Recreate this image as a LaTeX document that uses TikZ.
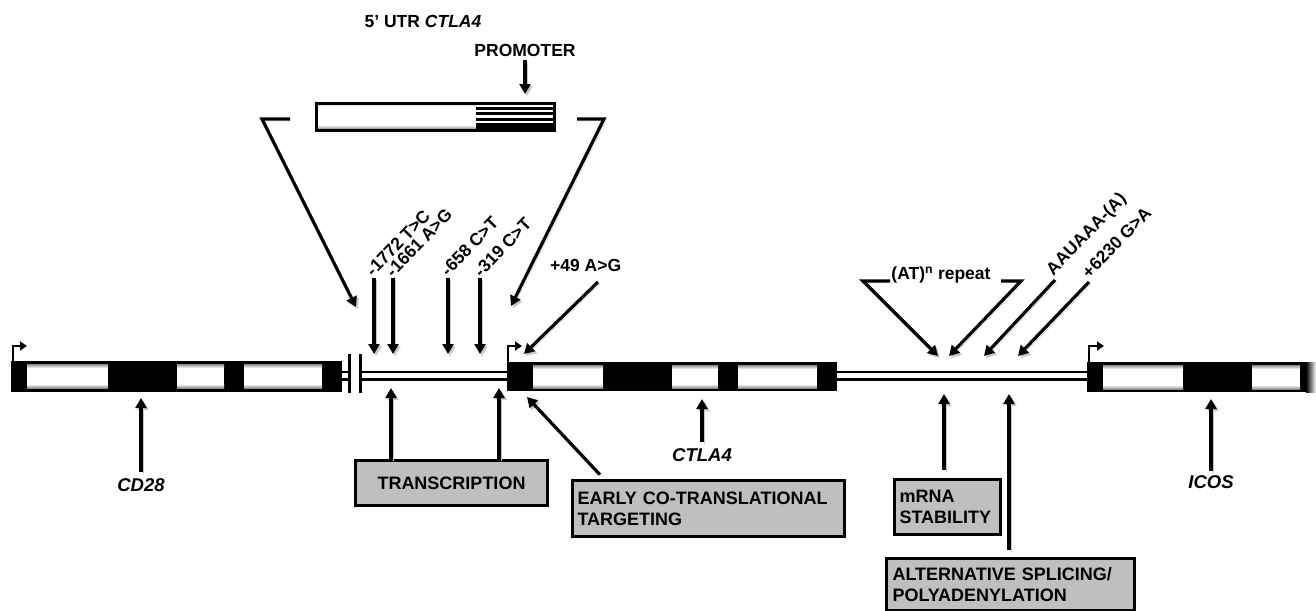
\documentclass[tikz,border=0pt]{standalone}
\usepackage{fontspec}
\setmainfont{Liberation Sans}
\usetikzlibrary{arrows.meta}
\begin{document}
\begin{tikzpicture}[x=1pt,y=-1pt,
  sh/.style={preaction={draw=black!22, transform canvas={shift={(2pt,-2pt)}}}},
  arr/.style={line width=3.2pt, -{Triangle[length=10pt,width=11pt]}, sh},
  lbl/.style={font=\fontsize{17.5}{20}\selectfont\bfseries, inner sep=0pt},
  glbl/.style={font=\fontsize{18.5}{20}\selectfont\bfseries\itshape, inner sep=0pt},
  snp/.style={lbl, rotate=46, anchor=west},
  fbox/.style={draw, line width=3pt, fill=black!25, font=\fontsize{18}{21}\selectfont\bfseries, inner xsep=5pt, inner ysep=0pt, align=left, anchor=north west},
  intron/.style={line width=2.8pt},
  prom/.style={line width=2.8pt, -{Triangle[length=7pt,width=9pt]}},
]
\useasboundingbox (0,0) rectangle (1316,610);

\newcommand{\exonbox}[4]{%
  \fill[white] (#1,#2) rectangle (#3,#4);
  \shade[top color=black!45, bottom color=white] (#1,#2) rectangle (#3,#2+4);
  \shade[top color=white, bottom color=black!45] (#1,#4-4) rectangle (#3,#4);}

% ---------- gene bars ----------
\fill (11,361) rectangle (342,392);
\exonbox{27}{364}{108}{388}
\exonbox{177}{364}{224}{388}
\exonbox{244}{364}{322}{388}

\fill (507,362) rectangle (837,391);
\exonbox{533}{365}{603}{388}
\exonbox{672}{365}{718}{388}
\exonbox{738}{365}{817}{388}

\fill (1087,362) rectangle (1306,392);
\shade[left color=black, right color=white] (1306,362) rectangle (1316,392);
\exonbox{1103}{365}{1183}{389}
\exonbox{1252}{365}{1300}{389}

% introns
\draw[intron] (342,372)--(349,372) (342,379.5)--(349,379.5);
\draw[intron] (360,372)--(507,372) (360,379.5)--(507,379.5);
\draw[intron] (837,372)--(1087,372) (837,379.5)--(1087,379.5);
\draw[line width=3pt] (349,354)--(349,393) (360,354)--(360,393);

% promoter arrows on genes
\draw[prom] (13,361) -- (13,346) -- (27,346);
\draw[prom] (508,362) -- (508,346) -- (522,346);
\draw[prom] (1089,362) -- (1089,346) -- (1104,346);

% ---------- 5' UTR box ----------
\exonbox{315}{102}{476}{129}
\fill (476,102) rectangle (553,129);
\foreach \yy in {105.5,111,116.5,122}
  \draw[white, line width=2.4pt] (476,\yy) -- (553,\yy);
\node[draw, line width=3pt, minimum width=238pt, minimum height=27pt, inner sep=0pt, anchor=north west] (utr) at (315,102) {};

\node[lbl] (utrlbl) at (423,21) {5' UTR \textit{CTLA4}};
\node[lbl] (promlbl) at (525,50) {PROMOTER};
\coordinate (promtip) at (525,94);
\draw[arr, shorten <=4pt] (promlbl.south) -- (promtip);

% brackets
\coordinate (lb1) at (290,119); \coordinate (lb2) at (262,119); \coordinate (lbt) at (356,307);
\draw[arr] (lb1) -- (lb2) -- (lbt);
\coordinate (rb1) at (577,119); \coordinate (rb2) at (604,119); \coordinate (rbt) at (511,306);
\draw[arr] (rb1) -- (rb2) -- (rbt);

% ---------- SNPs ----------
\coordinate (s1t) at (374,278); \coordinate (s1b) at (374,354);
\coordinate (s2t) at (393,278); \coordinate (s2b) at (393,354);
\coordinate (s3t) at (448,278); \coordinate (s3b) at (448,354);
\coordinate (s4t) at (480,278); \coordinate (s4b) at (480,354);
\draw[arr] (s1t) -- (s1b);
\draw[arr] (s2t) -- (s2b);
\draw[arr] (s3t) -- (s3b);
\draw[arr] (s4t) -- (s4b);
\node[snp] (l1) at (369,273) {-1772 T>C};
\node[snp] (l2) at (389,274) {-1661 A>G};
\node[snp] (l3) at (444,273) {-658 C>T};
\node[snp] (l4) at (477,274) {-319 C>T};

\node[lbl, anchor=west] (p49) at (550,265) {+49 A>G};
\coordinate (p49s) at (598,282); \coordinate (p49t) at (524,354);
\draw[arr] (p49s) -- (p49t);

% ---------- 3' region ----------
\node[lbl] (atlbl) at (941,275) {(AT)\textsuperscript{n} repeat};
\coordinate (at1) at (890,281); \coordinate (at2) at (863,281); \coordinate (att1) at (938,356);
\coordinate (at3) at (1001,281); \coordinate (at4) at (1021,281); \coordinate (att2) at (949,356);
\draw[arr] (at1) -- (at2) -- (att1);
\draw[arr] (at3) -- (at4) -- (att2);

\coordinate (aas) at (1055,280); \coordinate (aat) at (984,356);
\draw[arr] (aas) -- (aat);
\node[snp] (aal) at (1050,273) {AAUAAA-(A)};
\coordinate (g6s) at (1089,282); \coordinate (g6t) at (1018,356);
\draw[arr] (g6s) -- (g6t);
\node[snp] (g6l) at (1085,275) {+6230 G>A};

% ---------- gene names ----------
\node[glbl] (cd28) at (141,485) {CD28};
\coordinate (cd28t) at (141,398);
\draw[arr, shorten <=6pt] (cd28.north) -- (cd28t);
\node[glbl] (ctla4) at (702,455) {CTLA4};
\coordinate (ctla4t) at (702,399);
\draw[arr, shorten <=6pt] (ctla4.north) -- (ctla4t);
\node[glbl] (icos) at (1211,482) {ICOS};
\coordinate (icost) at (1211,399);
\draw[arr, shorten <=4pt] (icos.north) -- (icost);

% ---------- function boxes ----------
\node[fbox, minimum width=192pt, minimum height=45pt, align=center, anchor=north west] (tr) at (354,459) {TRANSCRIPTION};
\coordinate (t1) at (391,388); \coordinate (t2) at (499,388);
\draw[arr] (t1 |- tr.north) -- (t1);
\draw[arr] (t2 |- tr.north) -- (t2);

\node[fbox, text width=262pt, minimum height=56pt] (early) at (571,479) {EARLY CO-TRANSLATIONAL\\TARGETING};
\coordinate (e1) at (527,397);
\draw[arr, shorten <=6pt] ([xshift=33pt]early.north west) -- (e1);

\node[fbox, text width=96pt, minimum height=55pt] (mrna) at (893,478) {mRNA\\STABILITY};
\coordinate (m1) at (944,394);
\draw[arr, shorten <=8pt] (m1 |- mrna.north) -- (m1);

\node[fbox, text width=236pt, inner xsep=6pt, minimum height=52pt] (alt) at (885,557) {ALTERNATIVE SPLICING/\\POLYADENYLATION};
\coordinate (a1) at (1009,394);
\draw[arr, shorten <=7pt] (a1 |- alt.north) -- (a1);
\end{tikzpicture}
\end{document}
